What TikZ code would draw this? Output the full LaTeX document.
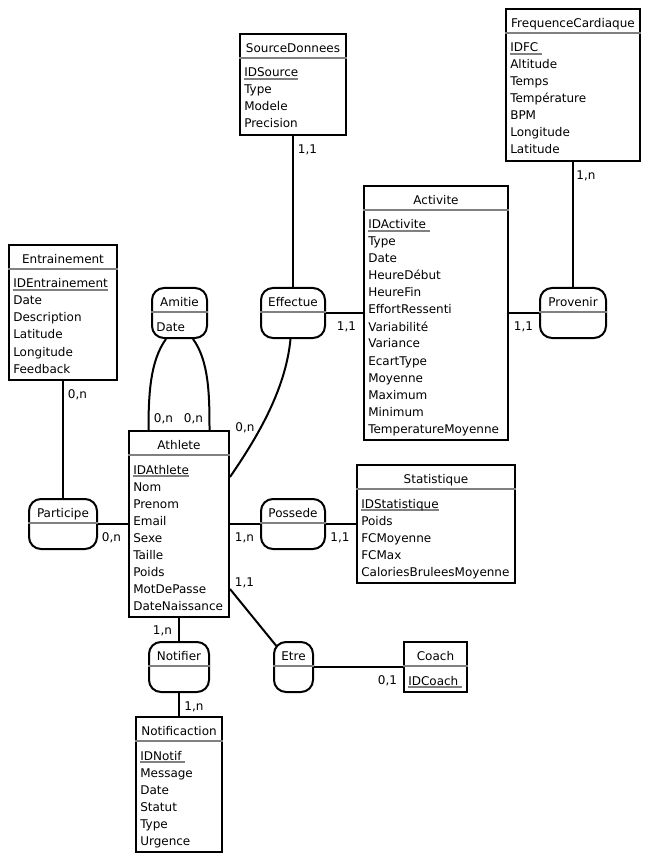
\documentclass[tikz,border=0pt]{standalone}
\usepackage{fontspec}
\setmainfont{DejaVu Sans}
\usetikzlibrary{calc,fit,backgrounds}
\def\idf#1{\setbox0\hbox{#1}\rlap{\color{black!50}\rule[-2pt]{\wd0}{0.9pt}}\box0}
\def\entity[#1](#2)(#3)(#4)#5#6{%
	\node[#1, fit={(#3) (#4)}] (#2) {};
	\draw[sepline] ($(#2.north west)+(0,25)$) -- ($(#2.north east)+(0,25)$);
	\node[enttitle] (#2-title) at ($(#2.north)+(0,19.5)$) {#5};
	\foreach \a [count=\i] in {#6} {\node[entattr] (#2-\i) at ($(#2.north west)+(5,27+17*\i)$) {\a};}
}

\begin{document}
\begin{tikzpicture}[x=0.75pt, y=-0.75pt,
		entity/.style={draw, line width=1.5pt, fill=white, inner sep=0pt},
		relation/.style={entity, rounded corners=9pt},
		sepline/.style={draw=black!50, line width=1.2pt},
		enttitle/.style={anchor=base, inner sep=0pt, font=\fontsize{9}{11}\selectfont},
		entattr/.style={anchor=base west, inner sep=0pt, font=\fontsize{9}{11}\selectfont},
		link/.style={line width=1.5pt},
		card/.style={anchor=base, inner sep=0pt, font=\fontsize{9}{11}\selectfont}]
	%%%%% START %%%%%
	\useasboundingbox (0,0) rectangle (649,862);
	
	% entities and relations
	\entity[entity](source)(240,34)(346,135){SourceDonnees}{\idf{IDSource},Type,Modele,Precision}
	\entity[entity](freq)(506,9)(640,161){FrequenceCardiaque}{\idf{IDFC\ },Altitude,Temps,Température,BPM,Longitude,Latitude}
	\entity[entity](activite)(364,186)(508,440){Activite}{\idf{IDActivite\ },Type,Date,HeureDébut,HeureFin,EffortRessenti,Variabilité,Variance,EcartType,Moyenne,Maximum,Minimum,TemperatureMoyenne}
	\entity[entity](entrainement)(9,245)(117,380){Entrainement}{\idf{IDEntrainement},Date,Description,Latitude,Longitude,Feedback}
	\entity[relation](amitie)(152,288)(207,338){Amitie}{Date}
	\entity[relation](effectue)(261,288)(325,338){Effectue}{}
	\entity[relation](provenir)(540,288)(606,338){Provenir}{}
	\entity[entity](athlete)(129,431)(229,617){Athlete}{\idf{IDAthlete},Nom,Prenom,Email,Sexe,Taille,Poids,MotDePasse,DateNaissance}
	\entity[relation](participe)(29,499)(97,549){Participe}{}
	\entity[relation](possede)(261,499)(325,549){Possede}{}
	\entity[entity](statistique)(357,465)(515,583){Statistique}{\idf{IDStatistique},Poids,FCMoyenne,FCMax,CaloriesBruleesMoyenne}
	\entity[relation](notifier)(149,642)(209,692){Notifier}{}
	\entity[relation](etre)(274,642)(313,692){Etre}{}
	\entity[entity](coach)(404,642)(467,692){Coach}{\idf{IDCoach\ }}
	\entity[entity](notif)(136,717)(222,852){Notificaction}{\idf{IDNotif\ },Message,Date,Statut,Type,Urgence}
	
	% free ends of the curved links
	\coordinate (amitie-l) at ($(amitie.south)+(-13.5,0)$);
	\coordinate (amitie-r) at ($(amitie.south)+(13.5,0)$);
	\coordinate (athlete-l) at ($(athlete.north)+(-30.5,0)$);
	\coordinate (athlete-r) at ($(athlete.north)+(30.5,0)$);
	\coordinate (effectue-s) at ($(effectue.south)+(-2.5,0)$);
	\coordinate (athlete-eff) at ($(athlete.north east)+(0,47)$);
	\coordinate (athlete-etre) at ($(athlete.south east)+(0,-29)$);
	
	% links
	\begin{scope}[on background layer]
		\draw[link] (source.south) -- (effectue.north);
		\draw[link] (effectue.east) -- (activite.west);
		\draw[link] (activite.east) -- (provenir.west);
		\draw[link] (freq.south) -- (provenir.north);
		\draw[link] (entrainement.south) -- (participe.north);
		\draw[link] (participe.east) -- (athlete.west);
		\draw[link] (amitie-l) .. controls +(-16,22) and +(0,-35) .. (athlete-l);
		\draw[link] (amitie-r) .. controls +(16,22) and +(0,-35) .. (athlete-r);
		\draw[link] (effectue-s) .. controls +(-5,52) and +(26,-38) .. (athlete-eff);
		\draw[link] (athlete.east) -- (possede.west);
		\draw[link] (possede.east) -- (statistique.west);
		\draw[link] (athlete-etre) -- (etre.center);
		\draw[link] (etre.east) -- (coach.west);
		\draw[link] (athlete.south) -- (notifier.north);
		\draw[link] (notifier.south) -- (notif.north);
	\end{scope}
	
	% cardinalities
	\node[card] (c-source) at ($(source.south)+(14.5,17.5)$) {1,1};
	\node[card] (c-effact) at ($(activite.west)+(-16.5,17)$) {1,1};
	\node[card] (c-actprov) at ($(activite.east)+(14.5,17)$) {1,1};
	\node[card] (c-freq) at ($(freq.south)+(13,17.5)$) {1,n};
	\node[card] (c-entr) at ($(entrainement.south)+(14.5,17.5)$) {0,n};
	\node[card] (c-part) at ($(athlete.west)+(-16.5,17)$) {0,n};
	\node[card] (c-amil) at ($(athlete.north)+(-15.5,-8)$) {0,n};
	\node[card] (c-amir) at ($(athlete.north)+(14.5,-8)$) {0,n};
	\node[card] (c-eff) at ($(athlete.north east)+(15,1)$) {0,n};
	\node[card] (c-poss) at ($(athlete.east)+(14.5,17)$) {1,n};
	\node[card] (c-stat) at ($(statistique.west)+(-16,17)$) {1,1};
	\node[card] (c-etre) at ($(athlete-etre)+(14.5,-3)$) {1,1};
	\node[card] (c-notif) at ($(athlete.south)+(-16.5,16)$) {1,n};
	\node[card] (c-coach) at ($(coach.west)+(-15.5,17.5)$) {0,1};
	\node[card] (c-notifi) at ($(notifier.south)+(15,17)$) {1,n};
	
	%%%%% END %%%%%
\end{tikzpicture}
\end{document}
